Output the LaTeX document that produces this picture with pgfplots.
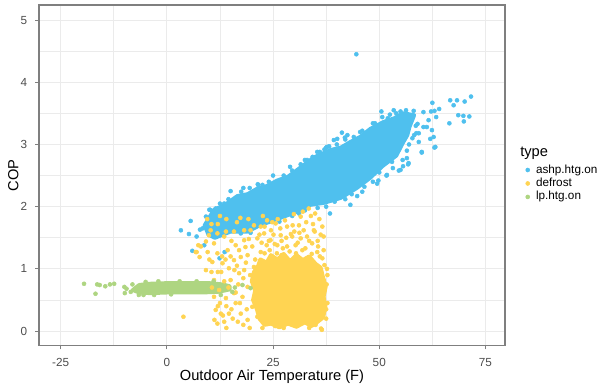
\documentclass[border=0pt]{standalone}
\usepackage{pgfplots}
\pgfplotsset{compat=1.18}
\usepackage{fontspec}
\setmainfont{Liberation Sans}
\definecolor{cblue}{HTML}{4FC0EE}
\definecolor{cyel}{HTML}{FFD452}
\definecolor{cgrn}{HTML}{AED581}
\definecolor{gridc}{HTML}{EBEBEB}
\definecolor{borderc}{HTML}{7F7F7F}
\definecolor{tickc}{HTML}{4D4D4D}
\begin{document}
\begin{tikzpicture}
\path (0,0) rectangle (450pt,292.5pt);
\begin{axis}[
  scale only axis, width=349.5pt, height=255.75pt,
  at={(29.25pt,33.2pt)}, anchor=south west,
  xmin=-30.1, xmax=79.6, ymin=-0.236, ymax=5.246,
  xtick={-25,0,25,50,75}, xticklabels={-25,0,25,50,75},
  ytick={0,1,2,3,4,5}, yticklabels={0,1,2,3,4,5},
  minor xtick={-12.5,12.5,37.5,62.5},
  minor ytick={0.5,1.5,2.5,3.5,4.5},
  grid=both,
  major grid style={draw=gridc, line width=0.8pt},
  minor grid style={draw=gridc, line width=0.4pt},
  axis line style={draw=borderc, line width=0.8pt},
  tick align=outside, xtick pos=bottom, ytick pos=left,
  major tick length=2.8pt, minor tick length=0pt,
  major tick style={draw=borderc, line width=0.6pt},
  xticklabel style={font=\fontsize{8.8}{10}\selectfont, text=tickc, anchor=north, inner sep=0pt, yshift=-6.8pt},
  yticklabel style={font=\fontsize{8.8}{10}\selectfont, text=tickc, anchor=east, inner sep=0pt, xshift=-5.8pt},
  xlabel={Outdoor Air Temperature (F)},
  ylabel={COP},
  xlabel style={font=\fontsize{11}{13}\selectfont, at={(axis description cs:0.5,-0.0909)}, anchor=center, inner sep=0pt},
  ylabel style={font=\fontsize{11}{13}\selectfont, at={(axis description cs:-0.0551,0.5)}, anchor=center, inner sep=0pt},
  legend style={at={(axis description cs:1.0445,0.5351)}, anchor=north west, draw=none, fill=none,
    inner sep=0pt, outer sep=0pt, column sep=4.7pt, row sep=0pt,
    font=\fontsize{8.8}{10}\selectfont,
    nodes={inner sep=0pt, text height=7.3pt, text depth=2.8pt}},
  legend cell align=left,
  legend image code/.code={\draw[#1] plot coordinates {(0pt,0pt)};},
  clip=true,
]
% ---- blue dense cloud (ashp.htg.on) ----
\addplot[fill=cblue, draw=cblue, line width=3pt, line join=round, line cap=round, forget plot] coordinates {
(8.9,1.70) (11.1,1.95) (13.5,2.02) (16.6,2.17) (19.0,2.20) (21.3,2.29) (23.5,2.33) (26.0,2.42) (28.5,2.48) (30.7,2.59) (34.6,2.79) (38.5,2.91)
(41.0,2.95) (43.2,3.04) (45.5,3.12) (47.9,3.25) (51.0,3.36) (53.5,3.42) (55.7,3.50) (58.2,3.47) (57.1,3.28) (56.6,3.15) (55.5,3.02) (54.0,2.82)
(50.9,2.66) (47.8,2.46) (44.7,2.30) (40.9,2.14) (36.9,2.06) (33.8,2.03) (30.7,1.92) (27.5,1.84)
(24.4,1.76) (22.1,1.71) (19.0,1.60) (15.0,1.60) (11.3,1.50) (9.8,1.55) (8.9,1.70)
};
\addplot[only marks, mark=*, mark size=1.5pt, color=cblue, forget plot] coordinates {
(44.6,4.45) (50.5,3.53) (53.4,3.55) (62.5,3.67) (66.7,3.71) (68.3,3.71) (67.5,3.63) (70.1,3.69)
(71.6,3.77) (68.6,3.47) (69.8,3.46) (71.2,3.45) (69.9,3.37) (66.5,3.34) (64.1,3.57) (63.0,3.54)
(62.2,3.53) (63.4,3.44) (63.0,2.95) (60.0,2.87) (62.0,3.09) (61.2,3.28) (62.4,3.23) (58.7,3.18)
(59.3,3.04) (56.8,2.68) (55.6,2.65) (54.6,2.58) (51.7,2.50) (49.8,2.42) (49.5,2.37) (46.0,2.24)
(44.8,2.17) (41.2,3.19) (40.1,3.09) (41.9,3.11) (38.2,2.97) (37.1,2.92) (34.3,2.80) (21.4,2.36)
(50.7,3.44) (56.3,3.55) (58.1,3.54) (60.4,3.52) (60.4,3.28) (61.6,3.39) (62.8,3.12) (59.3,3.18)
(60.0,2.88) (63.2,2.96) (56.9,2.70) (55.0,2.59) (51.8,2.51) (43.2,2.03) (38.4,1.89) (39.3,3.07)
(37.7,2.96) (35.4,2.88) (21.5,2.35) (31.1,1.89)
(3.3,1.62) (5.6,1.77) (5.2,1.56) (7.0,1.52) (8.4,1.65) (9.2,1.84) (11.5,1.97) (13.5,2.05)
(6.0,1.29) (7.8,1.63) (8.8,1.38) (13.6,1.27) (12.4,1.17) (11.1,1.60) (19.7,1.58) (17.4,1.57)
(57.5,3.40) (59.0,3.33) (57.8,3.10) (56.5,2.90) (53.0,2.72) (52.5,3.48) (48.5,3.34) (45.5,3.20)
(42.5,3.15) (29.0,2.64) (25.0,2.50) (32.5,2.75) (15.0,2.25) (18.0,2.30) (10.0,1.95)
(10.2,1.95) (12.5,2.05) (14.5,2.12) (17.5,2.24) (19.5,2.30) (22.5,2.35) (24.0,2.40) (27.5,2.50)
(29.5,2.58) (31.5,2.68) (33.0,2.75) (36.0,2.88) (37.5,2.95) (40.0,3.00) (42.0,3.08) (44.0,3.12)
(46.0,3.22) (49.0,3.34) (52.0,3.42) (54.0,3.50) (55.0,3.53)
(58.6,3.30) (58.2,3.15) (57.0,3.00) (56.5,2.78) (55.5,2.75) (53.2,2.62) (50.0,2.55) (48.5,2.40)
(46.5,2.32) (43.5,2.20) (42.0,2.12) (39.5,2.08) (37.5,2.00) (35.5,1.98) (32.5,1.94) (29.5,1.85)
(26.5,1.76)
};
% ---- yellow (defrost) ----
\addplot[fill=cyel, draw=cyel, line width=3pt, line join=round, line cap=round, forget plot] coordinates {
(20.5,0.95) (21.5,1.05) (22.0,1.15) (23.5,1.10) (24.5,1.22) (26.0,1.15) (27.5,1.24) (29.0,1.12)
(30.5,1.22) (32.0,1.14) (33.5,1.20) (35.0,1.08) (36.2,1.02) (36.8,0.85) (37.4,0.72) (36.9,0.55)
(37.3,0.40) (36.8,0.22) (35.5,0.15) (34.0,0.08) (32.5,0.14) (30.5,0.07) (28.5,0.12) (26.5,0.06)
(24.5,0.12) (23.0,0.10) (21.8,0.20) (21.2,0.35) (20.3,0.50) (20.8,0.65) (20.0,0.80) (20.5,0.95)
};
\addplot[only marks, mark=*, mark size=1.5pt, color=cyel, forget plot] coordinates {
(33.4,1.97) (34.9,1.89) (31.5,1.84) (28.3,1.68) (31.1,1.70) (34.6,1.62) (36.6,1.68) (36.9,1.52)
(34.2,1.41) (31.5,1.49) (29.5,1.52) (26.8,1.54) (26.0,1.38) (28.3,1.36) (30.3,1.38) (32.6,1.33)
(35.4,1.27) (36.6,1.17) (37.1,1.06) (36.9,0.82) (37.1,0.66) (36.9,0.50) (36.6,0.28) (36.3,0.04)
(8.0,1.36) (9.6,1.27) (11.1,1.41) (9.2,1.44) (6.8,1.27) (10.7,1.11) (13.1,1.09) (9.2,0.98)
(11.1,0.82) (12.3,0.66) (11.1,0.55) (11.5,0.34) (12.7,0.28) (11.9,0.12) (13.5,0.15) (15.0,0.82)
(17.0,0.93) (14.6,1.01) (15.8,1.14) (17.4,1.19) (14.3,1.30) (16.2,1.38) (18.2,1.46) (20.1,1.36)
(21.3,1.49) (22.9,1.57) (24.4,1.46) (22.1,1.27) (19.0,1.22) (18.2,0.98) (19.0,0.71) (17.8,0.55)
(16.2,0.45) (17.4,0.28) (19.0,0.18) (14.6,0.28) (13.9,0.53) (15.8,0.61) (20.1,0.39) (21.3,0.23)
(23.6,0.15) (20.9,0.82) (20.5,1.03) (13.5,1.52) (11.9,1.57) (9.9,1.54) (25.6,1.73) (23.6,1.78)
(22.1,1.68) (19.7,1.62) (18.2,1.62) (15.8,1.60) (13.9,1.60) (3.9,0.23) (7.4,1.38) (7.0,1.27)
(7.7,1.19) (27.5,0.05) (30.5,0.08) (33.5,0.05) (25.5,0.08) (22.5,0.05) (35.0,0.10) (37.5,0.20)
(37.8,0.45) (37.8,0.90) (16.5,1.75) (12.5,1.85) (10.5,1.72) (20.5,1.70) (24.5,1.62) (30.0,1.60)
(33.0,1.52) (35.5,1.45) (27.0,1.45) (23.5,1.38) (18.5,1.35) (15.0,1.20) (16.5,1.05) (12.0,0.95)
(13.5,0.80) (16.8,0.75) (14.0,0.40) (15.5,0.20) (18.0,0.10) (12.5,0.45) (10.5,0.95) (13.0,1.20)
(20.8,1.15) (22.3,1.42) (23.0,1.25) (24.2,1.30) (25.1,1.55) (25.9,1.25) (26.7,1.65) (27.3,1.33)
(28.1,1.50) (28.9,1.28) (29.6,1.70) (30.4,1.25) (31.2,1.58) (31.9,1.30) (32.8,1.75) (33.5,1.45)
(34.1,1.24) (34.8,1.60) (35.6,1.36) (36.2,1.55) (36.9,1.30) (26.1,1.80) (27.8,1.78) (29.9,1.88)
(32.0,1.92) (33.9,1.85) (35.9,1.80) (24.8,1.75) (23.0,1.68) (21.8,1.55) (24.0,1.45) (30.8,1.42)
(29.2,1.56) (27.0,1.22) (32.2,1.62) (34.4,1.72) (36.0,1.20) (25.4,1.40) (22.6,1.85)
(9.5,1.80) (10.3,1.62) (12.0,1.72) (14.0,1.80) (17.3,1.82) (19.2,1.80) (15.2,1.45) (17.0,1.30)
(19.3,1.48) (11.9,1.25) (13.8,1.15) (18.6,1.10) (10.0,1.15) (12.8,0.95) (15.9,0.98) (19.6,0.90)
(14.5,0.70) (16.2,0.62) (18.0,0.85) (10.6,0.70) (12.0,0.40) (13.2,0.25) (15.2,0.35) (16.7,0.15)
(18.8,0.35) (17.2,0.45) (19.5,0.05) (14.0,0.05) (11.2,0.18)
(37.6,0.75) (37.5,0.35) (37.7,1.00) (36.5,0.02)
};
% ---- green (lp.htg.on) ----
\addplot[fill=cgrn, draw=cgrn, line width=3pt, line join=round, line cap=round, forget plot] coordinates {
(-8.0,0.66) (-6.5,0.74) (-4.0,0.76) (0.0,0.77) (5.0,0.77) (10.0,0.77) (13.0,0.75) (14.8,0.72)
(14.8,0.67) (12.0,0.63) (8.0,0.62) (4.0,0.62) (0.0,0.62) (-4.0,0.61) (-6.5,0.62) (-8.0,0.66)
};
\addplot[only marks, mark=*, mark size=1.5pt, color=cgrn, forget plot] coordinates {
(-19.5,0.76) (-16.8,0.60) (-16.4,0.75) (-15.8,0.74) (-14.5,0.72) (-13.4,0.75) (-12.4,0.76)
(-10.0,0.71) (-9.9,0.61) (-8.1,0.75) (-8.5,0.63) (-6.6,0.58) (17.8,0.74) (19.7,0.69) (15.4,0.63)
(12.7,0.58) (-5.0,0.79) (-2.0,0.80) (3.0,0.80) (7.0,0.80) (-3.0,0.58) (1.0,0.59) (-9.5,0.68)
(-7.2,0.69) (-5.5,0.58) (11.0,0.80) (16.0,0.70)
};
% ---- legend entries ----
\addlegendimage{only marks, mark=*, mark size=1.5pt, color=cblue}
\addlegendentry{ashp.htg.on}
\addlegendimage{only marks, mark=*, mark size=1.5pt, color=cyel}
\addlegendentry{defrost}
\addlegendimage{only marks, mark=*, mark size=1.5pt, color=cgrn}
\addlegendentry{lp.htg.on}
\end{axis}
\draw[borderc, line width=0.9pt] (29.25pt,33.2pt) rectangle (378.75pt,288.6pt);
\node[anchor=west, inner sep=0pt, font=\fontsize{11}{13}\selectfont] at (390pt,177.5pt) {type};
\end{tikzpicture}
\end{document}
